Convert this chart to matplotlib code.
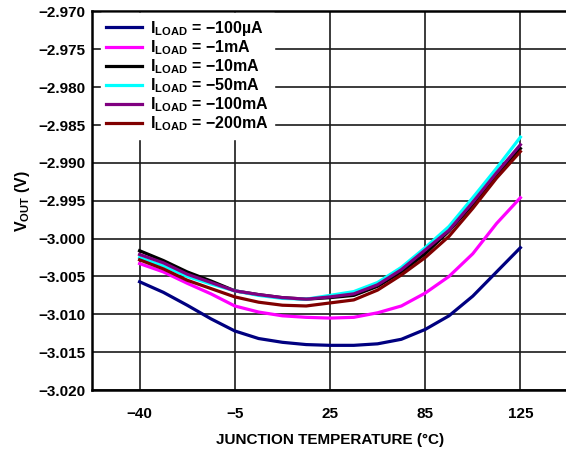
import numpy as np
import matplotlib
matplotlib.use("Agg")
from matplotlib import pyplot as plt

plt.rcParams["font.family"] = ["Liberation Sans", "DejaVu Sans"]
plt.rcParams["font.weight"] = "bold"
plt.rcParams["mathtext.fontset"] = "custom"
plt.rcParams["mathtext.rm"] = "Liberation Sans:bold"
plt.rcParams["mathtext.it"] = "Liberation Sans:bold"
plt.rcParams["mathtext.bf"] = "Liberation Sans:bold"
plt.rcParams["axes.unicode_minus"] = True

# temperature categories are drawn on an evenly spaced axis
temp_labels = ["\u221240", "\u22125", "25", "85", "125"]
# sample positions along that axis (quarter steps between categories)
pos = [0, 0.25, 0.5, 0.75, 1, 1.25, 1.5, 1.75, 2,
       2.25, 2.5, 2.75, 3, 3.25, 3.5, 3.75, 4]

load_labels = ["\u2212100\u00b5A", "\u22121mA", "\u221210mA",
               "\u221250mA", "\u2212100mA", "\u2212200mA"]
load_colors = ["#000080", "#ff00ff", "#000000", "#00ffff", "#800080", "#800000"]

vout_100ua = [-3.0057, -3.0071, -3.0088, -3.0106, -3.0122, -3.0132, -3.0137, -3.0140, -3.0141,
              -3.0141, -3.0139, -3.0133, -3.0120, -3.0102, -3.0076, -3.0044, -3.0012]
vout_1ma = [-3.0033, -3.0044, -3.0059, -3.0073, -3.0089, -3.0097, -3.0102, -3.0104, -3.0105,
            -3.0104, -3.0098, -3.0089, -3.0072, -3.0050, -3.0020, -2.9980, -2.9946]
vout_10ma = [-3.0016, -3.0029, -3.0044, -3.0056, -3.0069, -3.0074, -3.0078, -3.0080, -3.0078,
             -3.0075, -3.0063, -3.0044, -3.0020, -2.9990, -2.9955, -2.9917, -2.9881]
vout_50ma = [-3.0025, -3.0036, -3.0050, -3.0060, -3.0069, -3.0075, -3.0079, -3.0080, -3.0075,
             -3.0070, -3.0058, -3.0038, -3.0012, -2.9984, -2.9946, -2.9907, -2.9866]
vout_100ma = [-3.0021, -3.0032, -3.0047, -3.0058, -3.0069, -3.0074, -3.0078, -3.0080, -3.0077,
              -3.0073, -3.0061, -3.0041, -3.0015, -2.9989, -2.9952, -2.9913, -2.9876]
vout_200ma = [-3.0028, -3.0040, -3.0055, -3.0066, -3.0077, -3.0084, -3.0088, -3.0089, -3.0085,
              -3.0081, -3.0068, -3.0048, -3.0025, -2.9997, -2.9960, -2.9920, -2.9885]

series = [vout_100ua, vout_1ma, vout_10ma, vout_50ma, vout_100ma, vout_200ma]

y_ticks = np.arange(-3.020, -2.9699, 0.005)

fig = plt.figure(figsize=(5.66, 4.49), dpi=100)
ax = fig.add_axes([0.1625, 0.1314, 0.8410, 0.8430])

for vals, lab, col in zip(series, load_labels, load_colors):
    ax.plot(pos, vals, color=col, linewidth=2.3, solid_joinstyle="round",
            label=r"$\mathrm{I_{LOAD}}$ = " + lab)

ax.set_xlim(-0.5, 4.5)
ax.set_ylim(-3.020, -2.970)
ax.set_xticks(range(len(temp_labels)))
ax.set_xticklabels(temp_labels)
ax.set_yticks(y_ticks)
ax.set_yticklabels([f"{v:.3f}".replace("-", "\u2212") for v in y_ticks])
ax.tick_params(axis="x", length=0, labelsize=11, pad=12)
ax.tick_params(axis="y", length=0, labelsize=11, pad=5)
for lbl in ax.get_xticklabels() + ax.get_yticklabels():
    lbl.set_fontweight("bold")

ax.grid(True, color="#1a1a1a", linewidth=1.2)
ax.set_axisbelow(True)
for sp in ax.spines.values():
    sp.set_linewidth(1.8)
    sp.set_color("black")

ax.set_xlabel("JUNCTION TEMPERATURE (\u00b0C)", fontsize=11, fontweight="bold", labelpad=9)
ax.set_ylabel(r"$\mathrm{V_{OUT}}$ (V)", fontsize=11.5, fontweight="bold", labelpad=4)

leg = ax.legend(loc="upper left", frameon=True, fancybox=False, fontsize=11.5,
                handlelength=2.25, handletextpad=0.5, labelspacing=0.02,
                borderaxespad=0.0, borderpad=0.35, bbox_to_anchor=(0.018, 0.995))
leg.get_frame().set_edgecolor("white")
leg.get_frame().set_facecolor("white")
leg.get_frame().set_alpha(1.0)
for t in leg.get_texts():
    t.set_fontweight("bold")

fig.savefig("out.png", dpi=100)
